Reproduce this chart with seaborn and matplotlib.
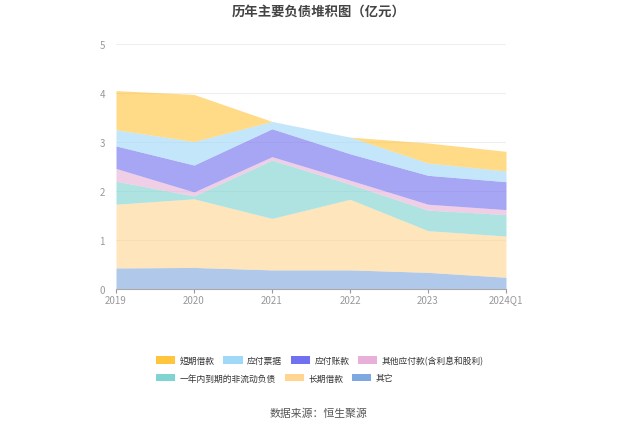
import matplotlib
matplotlib.use("Agg")
import matplotlib.pyplot as plt
import seaborn as sns
from matplotlib.patches import Patch

categories = ["2019", "2020", "2021", "2022", "2023", "2024Q1"]
other = [0.43, 0.44, 0.39, 0.39, 0.34, 0.24]
long_loan = [1.30, 1.40, 1.05, 1.44, 0.85, 0.84]
current_noncurrent = [0.47, 0.06, 1.19, 0.31, 0.42, 0.44]
other_payable = [0.26, 0.08, 0.07, 0.08, 0.12, 0.10]
accounts_payable = [0.46, 0.55, 0.57, 0.54, 0.59, 0.57]
notes_payable = [0.33, 0.48, 0.15, 0.34, 0.25, 0.22]
short_loan = [0.80, 0.96, 0.00, 0.00, 0.41, 0.40]

series_names = ["其它", "长期借款", "一年内到期的非流动负债", "其他应付款(含利息和股利)",
                "应付账款", "应付票据", "短期借款"]
series_vals = [other, long_loan, current_noncurrent, other_payable,
               accounts_payable, notes_payable, short_loan]
colors = ["#80a8e0", "#ffd591", "#7fd3d0", "#e8b0d8", "#7070f0", "#a0d8f8", "#ffc53d"]

sns.set_theme(style="white")
plt.rcParams['font.family'] = ['Noto Sans CJK SC', 'DejaVu Sans']

fig = plt.figure(figsize=(6.37, 4.31), dpi=100)
ax = fig.add_axes([116/637, 1-290/431, 390/637, 245/431])

x = list(range(len(categories)))
ax.stackplot(x, *series_vals, colors=colors, alpha=0.62, linewidth=0)

ax.set_xlim(0, len(categories)-1)
ax.set_ylim(0, 5)
ax.set_yticks([0, 1, 2, 3, 4, 5])
ax.set_xticks(x)
ax.set_xticklabels(categories)
ax.yaxis.grid(True, color="#eeeeee", linewidth=0.8)
ax.set_axisbelow(True)
for s in ["top", "right", "left"]:
    ax.spines[s].set_visible(False)
ax.spines["bottom"].set_color("#aaaaaa")
ax.spines["bottom"].set_linewidth(0.8)
ax.tick_params(axis="x", colors="#999999", labelsize=7, length=3, width=0.8, pad=1, bottom=True)
ax.tick_params(axis="y", colors="#999999", labelsize=7, length=0, pad=8)
for lab in ax.get_xticklabels() + ax.get_yticklabels():
    lab.set_color("#999999")

fig.text(0.5, 1-12/431, "历年主要负债堆积图（亿元）", ha="center", va="center",
         fontsize=9.6, fontweight="bold", color="#444444")
fig.text(0.5, 1-414/431, "数据来源：恒生聚源", ha="center", va="center",
         fontsize=7.8, color="#555555")

def handles(idx):
    return [Patch(facecolor=colors[i], edgecolor="none", label=series_names[i]) for i in idx]

row1 = [6, 5, 4, 3]
row2 = [2, 1, 0]
kw = dict(frameon=False, fontsize=6.3, handlelength=2.2, handleheight=1.0,
          handletextpad=0.5, columnspacing=1.0, borderaxespad=0, borderpad=0)
leg1 = fig.legend(handles=handles(row1), loc="center left", ncol=4,
                  bbox_to_anchor=(156/637, 1-361/431), **kw)
leg2 = fig.legend(handles=handles(row2), loc="center left", ncol=3,
                  bbox_to_anchor=(156/637, 1-379/431), **kw)
for leg in (leg1, leg2):
    for t in leg.get_texts():
        t.set_color("#333333")

fig.savefig("out.png", dpi=100)
